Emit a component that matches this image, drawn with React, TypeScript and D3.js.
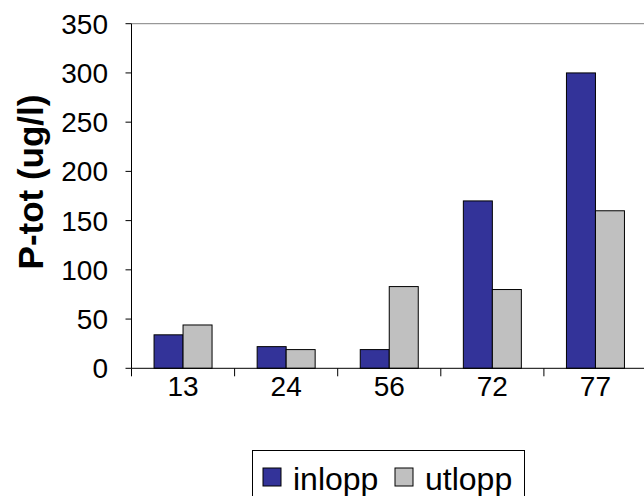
import React from "react";
import * as d3 from "d3";

const categories = ["13", "24", "56", "72", "77"];
const inlopp = [34, 22, 19, 170, 300];
const utlopp = [44, 19, 83, 80, 160];
const yTicks = [0, 50, 100, 150, 200, 250, 300, 350];
const seriesNames = ["inlopp", "utlopp"];
const seriesColors = ["#333399", "#C0C0C0"];

export default function App() {
  const W = 644, H = 496;
  const left = 131.5, top = 23.7, bottom = 368.3;
  const bandW = 103.1;
  const right = left + bandW * categories.length;
  const x = d3.scaleBand().domain(categories).range([left, right]).paddingInner(0).paddingOuter(0);
  const y = d3.scaleLinear().domain([0, 350]).range([bottom, top]);
  const barW = 29;
  const font = "Arial, 'Liberation Sans', sans-serif";
  const series = [inlopp, utlopp];
  return (
    <svg width={W} height={H} style={{ position: "absolute", left: 0, top: 0 }} fontFamily={font}>
      <rect x={0} y={0} width={W} height={H} fill="#fff" />
      <line x1={left} x2={right} y1={top} y2={top} stroke="#808080" strokeWidth={1} />
      <line x1={right} x2={right} y1={top} y2={bottom} stroke="#808080" strokeWidth={1} />
      {categories.map((c, i) => {
        const cx = (x(c) as number) + x.bandwidth() / 2;
        return series.map((s, k) => (
          <rect
            key={c + k}
            x={cx - barW + k * barW}
            y={y(s[i])}
            width={barW}
            height={bottom - y(s[i])}
            fill={seriesColors[k]}
            stroke="#000"
            strokeWidth={1}
          />
        ));
      })}
      <line x1={left} x2={left} y1={top} y2={bottom} stroke="#000" />
      {yTicks.map((t) => (
        <g key={t}>
          <line x1={left - 6} x2={left} y1={y(t)} y2={y(t)} stroke="#000" />
          <text x={108} y={y(t)} dy="0.36em" textAnchor="end" fontSize={28} fill="#000">
            {t}
          </text>
        </g>
      ))}
      <line x1={left} x2={right} y1={bottom} y2={bottom} stroke="#000" />
      {categories.map((c) => (
        <g key={c}>
          <line x1={x(c) as number} x2={x(c) as number} y1={bottom} y2={bottom + 8} stroke="#000" />
          <text
            x={(x(c) as number) + x.bandwidth() / 2}
            y={396}
            textAnchor="middle"
            fontSize={28}
            fill="#000"
          >
            {c}
          </text>
        </g>
      ))}
      <text
        transform={`translate(30,182) rotate(-90)`}
        textAnchor="middle"
        dy="0.36em"
        fontSize={35}
        fontWeight="bold"
        fill="#000"
      >
        P-tot (ug/l)
      </text>
      <rect x={252.5} y={450.5} width={272} height={60} fill="#fff" stroke="#000" />
      {seriesNames.map((n, k) => {
        const sx = k === 0 ? 263 : 395;
        return (
          <g key={n}>
            <rect x={sx} y={468} width={18} height={18} fill={seriesColors[k]} stroke="#000" />
            <text x={sx + 30} y={490} fontSize={32} fill="#000">
              {n}
            </text>
          </g>
        );
      })}
    </svg>
  );
}
